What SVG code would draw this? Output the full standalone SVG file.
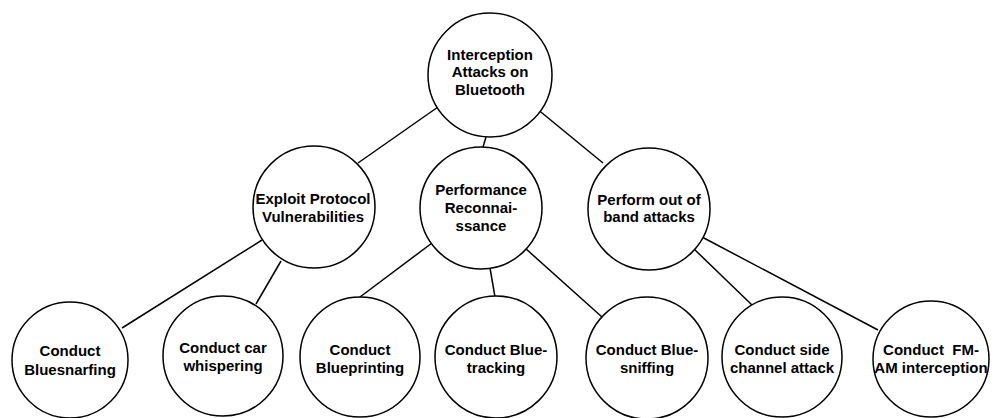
<svg xmlns="http://www.w3.org/2000/svg" width="995" height="418" viewBox="0 0 995 418">
  <style>
    .node circle { fill: #ffffff; stroke: #000000; stroke-width: 1.5; }
    .node text { font-family: "Liberation Sans", Arial, Helvetica, sans-serif; font-size: 15px; font-weight: bold; fill: #000000; text-anchor: middle; white-space: pre; }
    .edges line { stroke: #000000; stroke-width: 1.5; }
  </style>
  <rect x="0" y="0" width="995" height="418" fill="#ffffff"/>

  <!-- connectors -->
  <g class="edges">
    <line x1="438" y1="107" x2="358" y2="163"/>
    <line x1="486" y1="137" x2="483" y2="147"/>
    <line x1="536" y1="108" x2="603" y2="163"/>
    <line x1="262" y1="240" x2="122" y2="328"/>
    <line x1="281" y1="261" x2="256" y2="304"/>
    <line x1="432" y1="243" x2="360" y2="297"/>
    <line x1="490" y1="268" x2="495" y2="297"/>
    <line x1="525" y1="248" x2="602" y2="317"/>
    <line x1="693" y1="248" x2="752" y2="305"/>
    <line x1="702" y1="237" x2="878" y2="330"/>
  </g>

  <!-- root -->
  <g id="root" class="node">
    <circle cx="490" cy="75" r="62"/>
    <text x="490" y="60">Interception</text>
    <text x="490" y="77">Attacks on</text>
    <text x="490" y="95">Bluetooth</text>
  </g>

  <!-- second level -->
  <g id="exploit" class="node">
    <circle cx="314" cy="207" r="61"/>
    <text x="313" y="204">Exploit Protocol</text>
    <text x="313" y="222">Vulnerabilities</text>
  </g>
  <g id="recon" class="node">
    <circle cx="481" cy="208" r="61"/>
    <text x="481" y="195">Performance</text>
    <text x="481" y="213">Reconnai-</text>
    <text x="481" y="231">ssance</text>
  </g>
  <g id="outofband" class="node">
    <circle cx="649" cy="209" r="61"/>
    <text x="649" y="205">Perform out of</text>
    <text x="649" y="222">band attacks</text>
  </g>

  <!-- leaves -->
  <g id="bluesnarfing" class="node">
    <circle cx="70" cy="360" r="58"/>
    <text x="70" y="356">Conduct</text>
    <text x="70" y="375">Bluesnarfing</text>
  </g>
  <g id="carwhispering" class="node">
    <circle cx="223" cy="356" r="60"/>
    <text x="223" y="353">Conduct car</text>
    <text x="223" y="371">whispering</text>
  </g>
  <g id="blueprinting" class="node">
    <circle cx="360" cy="357" r="60"/>
    <text x="360" y="355">Conduct</text>
    <text x="360" y="373">Blueprinting</text>
  </g>
  <g id="bluetracking" class="node">
    <circle cx="496" cy="357" r="61"/>
    <text x="496" y="355">Conduct Blue-</text>
    <text x="496" y="373">tracking</text>
  </g>
  <g id="bluesniffing" class="node">
    <circle cx="647" cy="358" r="61"/>
    <text x="647" y="355">Conduct Blue-</text>
    <text x="647" y="373">sniffing</text>
  </g>
  <g id="sidechannel" class="node">
    <circle cx="782" cy="357" r="60"/>
    <text x="782" y="355">Conduct side</text>
    <text x="782" y="373">channel attack</text>
  </g>
  <g id="fmam" class="node">
    <circle cx="931" cy="359" r="58"/>
    <text x="931" y="355">Conduct  FM-</text>
    <text x="931" y="373">AM interception</text>
  </g>
</svg>
